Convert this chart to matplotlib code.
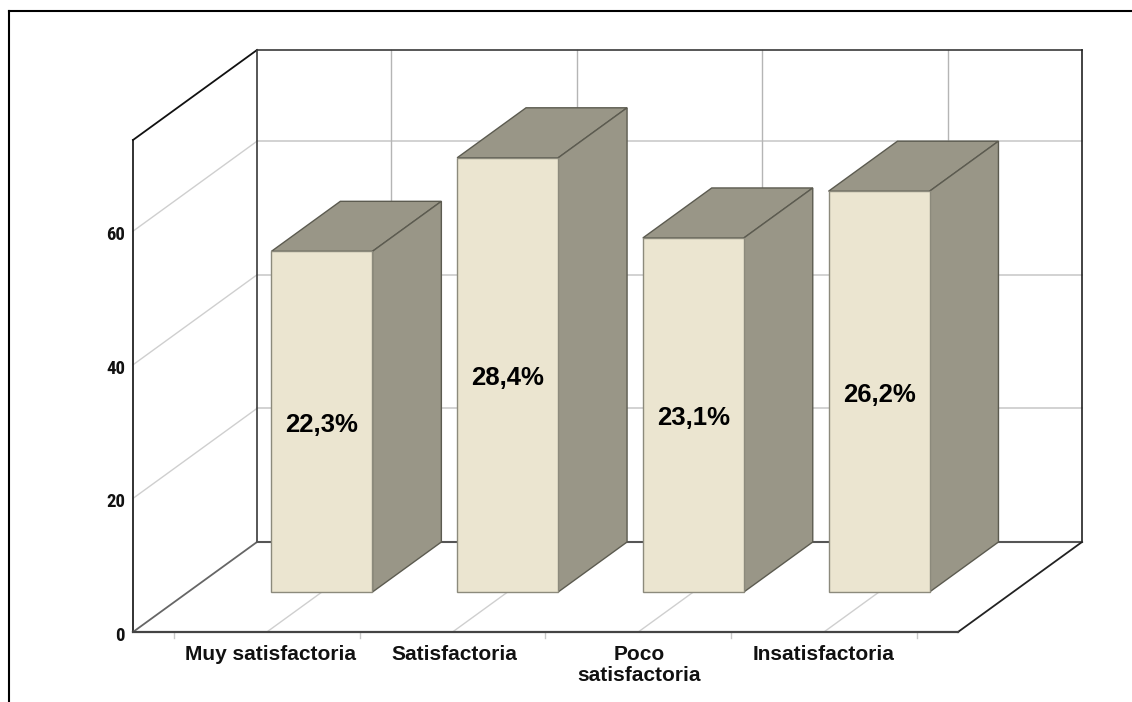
import matplotlib
matplotlib.use("Agg")
import matplotlib.pyplot as plt
from matplotlib.patches import Polygon

categories = ["Muy satisfactoria", "Satisfactoria", "Poco\nsatisfactoria", "Insatisfactoria"]
counts = [51, 65, 53, 60]
pct_labels = ["22,3%", "28,4%", "23,1%", "26,2%"]
y_ticks = [0, 20, 40, 60]

# scale of the chart box, pixels per x unit / per y unit
PX_X = 185.7
PX_Y = 6.68
W, H = 1132, 702
X0, Y0 = 174, 632  # pixel position of x=0, y=0 on the front edge

# oblique depth: how far the back wall is shifted, in data units
DEPTH_X = 124 / PX_X
DEPTH_Y = 90 / PX_Y
Y_TOP = 492 / PX_Y
X_MIN, X_MAX = -41 / PX_X, 4 + 41.2 / PX_X
BAR_W = 0.544
BAR_Z0 = 40 / 90  # bars start part way into the floor

# category labels are spaced a little tighter than the bars
LABEL_X = (270.5 - X0) / PX_X
LABEL_STEP = 184.3 / PX_X

FRONT = "#EBE5D0"
SIDE = "#999687"
EDGE = "#5C5B50"
FRONT_EDGE = "#8C8A7C"
GRID = "#CFCFCF"
AXIS = "#3A3A3A"
NARROW = ["Roboto Condensed", "Asap Condensed", "Liberation Sans"]


def proj(x, y, z=0.0):
    return x + z * DEPTH_X, y + z * DEPTH_Y


plt.rcParams["font.family"] = ["Liberation Sans"]

fig = plt.figure(figsize=(W / 100, H / 100), dpi=100)
ax = fig.add_axes([0, 0, 1, 1])
ax.set_xlim(-X0 / PX_X, (W - X0) / PX_X)
ax.set_ylim(-(H - Y0) / PX_Y, Y0 / PX_Y)
ax.axis("off")


def seg(p, q, color, lw, z=1):
    ax.plot([p[0], q[0]], [p[1], q[1]], color=color, lw=lw, zorder=z, solid_capstyle="projecting")


# gridlines on the side wall, back wall and floor
for v in y_ticks[1:]:
    seg(proj(X_MIN, v, 0), proj(X_MIN, v, 1), GRID, 1.0)
    seg(proj(X_MIN, v, 1), proj(X_MAX, v, 1), GRID, 1.3)
for i in range(len(categories)):
    c = i + 0.5
    seg(proj(c, 0, 0), proj(c, 0, 1), GRID, 1.0)
    seg(proj(c, 0, 1), proj(c, Y_TOP, 1), "#B5B5B5", 1.0)

# box outline
seg(proj(X_MIN, 0, 0), proj(X_MIN, Y_TOP, 0), "#222222", 1.3, 2)
seg(proj(X_MIN, Y_TOP, 0), proj(X_MIN, Y_TOP, 1), "#111111", 1.3, 2)
seg(proj(X_MIN, Y_TOP, 1), proj(X_MAX, Y_TOP, 1), AXIS, 1.2, 2)
seg(proj(X_MIN, 0, 1), proj(X_MIN, Y_TOP, 1), AXIS, 1.2, 2)
seg(proj(X_MAX, 0, 1), proj(X_MAX, Y_TOP, 1), "#222222", 1.2, 2)
seg(proj(X_MIN, 0, 0), proj(X_MIN, 0, 1), "#666666", 1.3, 2)
seg(proj(X_MIN, 0, 1), proj(X_MAX, 0, 1), "#555555", 1.5, 2)
seg(proj(X_MAX, 0, 0), proj(X_MAX, 0, 1), "#222222", 1.3, 2)
seg(proj(X_MIN, 0, 0), proj(X_MAX, 0, 0), "#444444", 1.6, 2)

# tick marks between the categories
for i in range(len(categories) + 1):
    ax.plot([i, i], [0, -6 / PX_Y], color="#C8C8C8", lw=1.0, zorder=1)

# bars do not overlap, so draw order between them does not matter
for i, n in enumerate(counts):
    c = i + 0.5
    l, r = c - BAR_W / 2, c + BAR_W / 2
    z0 = BAR_Z0
    top = Polygon([proj(l, n, z0), proj(r, n, z0), proj(r, n, 1), proj(l, n, 1)],
                  facecolor=SIDE, edgecolor=EDGE, lw=1.0, zorder=3)
    side = Polygon([proj(r, 0, z0), proj(r, n, z0), proj(r, n, 1), proj(r, 0, 1)],
                   facecolor=SIDE, edgecolor=EDGE, lw=1.0, zorder=3)
    front = Polygon([proj(l, 0, z0), proj(r, 0, z0), proj(r, n, z0), proj(l, n, z0)],
                    facecolor=FRONT, edgecolor=FRONT_EDGE, lw=1.0, zorder=4)
    ax.add_patch(top)
    ax.add_patch(side)
    ax.add_patch(front)
    # percentage sits about halfway up the bar's front face
    lx, ly = proj(c, n / 2, z0)
    ax.text(lx, ly - 3 / PX_Y, pct_labels[i], ha="center", va="center", fontsize=18.5,
            fontweight="bold", color="black", zorder=5)

# axis text
for v in y_ticks:
    ax.text(X_MIN - 8 / PX_X, v - 3.7 / PX_Y, str(v), ha="right", va="center", fontsize=13.5,
            fontweight="bold", family=NARROW, color="#111111")
for i, name in enumerate(categories):
    ax.text(LABEL_X + i * LABEL_STEP, -13 / PX_Y, name, ha="center", va="top", fontsize=15,
            fontweight="bold", color="#111111", linespacing=1.12)

# outer chart frame, only top and left are in view
frame_x = (9 - X0) / PX_X
frame_y = (Y0 - 11) / PX_Y
ax.plot([frame_x, frame_x], [frame_y, -(H - Y0) / PX_Y], color="black", lw=1.5, zorder=6)
ax.plot([frame_x, (W - X0) / PX_X], [frame_y, frame_y], color="black", lw=1.5, zorder=6)

fig.savefig("out.png", dpi=100)
